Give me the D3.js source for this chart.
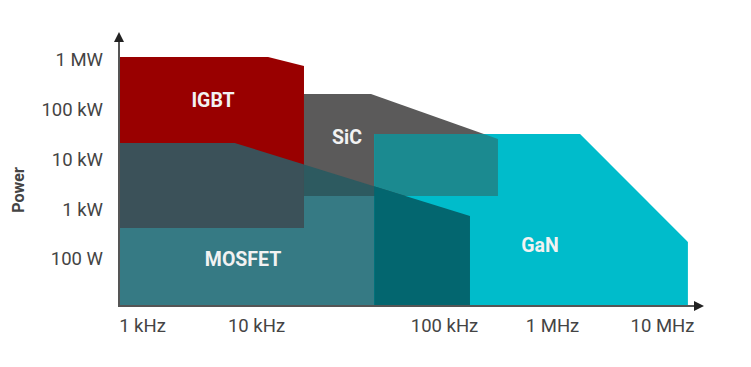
<!DOCTYPE html>
<html>
<head>
<meta charset="utf-8">
<script src="https://cdn.jsdelivr.net/npm/d3@7"></script>
<style>
  html, body { margin: 0; padding: 0; background: #ffffff; }
  svg { display: block; }
  text { font-family: Roboto, "Noto Sans", sans-serif; }
</style>
</head>
<body>
<svg id="chart" width="751" height="367"></svg>
<script>
// ---- Data (frequency in Hz, power in W) ----
const xTickValues = [1e3, 1e4, 1e5, 1e6, 1e7];
const xTickLabels = ["1 kHz", "10 kHz", "100 kHz", "1 MHz", "10 MHz"];
const yTickValues = [1e2, 1e3, 1e4, 1e5, 1e6];
const yTickLabels = ["100 W", "1 kW", "10 kW", "100 kW", "1 MW"];

const FLOOR = 11.4; // power at the frequency axis

const igbtFreq  = [640, 11600, 18000, 18000, 640];
const igbtPower = [1.15e6, 1.15e6, 7.6e5, 420, 420];

const sicFreq  = [18000, 40900, 316000, 316000, 18000];
const sicPower = [2.07e5, 2.07e5, 2.58e4, 1850, 1850];

const ganFreq  = [42500, 1.8e6, 1.72e7, 1.72e7, 42500];
const ganPower = [3.26e4, 3.26e4, 220, FLOOR, FLOOR];

const mosfetFreq  = [640, 6500, 174000, 174000, 640];
const mosfetPower = [2.15e4, 2.15e4, 731, FLOOR, FLOOR];

const labelNames = ["IGBT", "SiC", "MOSFET", "GaN"];
const labelFreq  = [4200, 30500, 7700, 774000];
const labelPower = [1.5e5, 2.83e4, 100, 191];

// ---- Scales ----
const x = d3.scaleLog()
  .domain(xTickValues)
  .range([142, 256, 444, 552, 662]);
const y = d3.scaleLog()
  .domain([1e2, 1e6])
  .range([259, 60]);

const svg = d3.select("#chart");
const toPts = (fs, ps) => fs.map((f, i) => [x(f), y(ps[i])]);
const line = d3.line();
const pathOf = (fs, ps) => line(toPts(fs, ps)) + "Z";

const igbtPath = pathOf(igbtFreq, igbtPower);
const sicPath = pathOf(sicFreq, sicPower);
const ganPath = pathOf(ganFreq, ganPower);
const mosPath = pathOf(mosfetFreq, mosfetPower);

const defs = svg.append("defs");
[["clipIgbt", igbtPath], ["clipSic", sicPath], ["clipGan", ganPath]].forEach(([id, d]) => {
  defs.append("clipPath").attr("id", id).append("path").attr("d", d);
});

const g = svg.append("g");
// base layers
g.append("path").attr("d", mosPath).attr("fill", "#367a84");
g.append("path").attr("d", igbtPath).attr("fill", "#990000");
g.append("path").attr("d", sicPath).attr("fill", "#5b5a5a");
g.append("path").attr("d", ganPath).attr("fill", "#00bccb");
// overlaps
g.append("path").attr("d", ganPath).attr("clip-path", "url(#clipSic)").attr("fill", "#1b8a90");
g.append("path").attr("d", mosPath).attr("clip-path", "url(#clipIgbt)").attr("fill", "#3b5159");
g.append("path").attr("d", mosPath).attr("clip-path", "url(#clipSic)").attr("fill", "#2d5a60");
g.append("path").attr("d", mosPath).attr("clip-path", "url(#clipGan)").attr("fill", "#03666f");

// region labels
g.selectAll("text.region")
  .data(labelNames)
  .join("text")
  .attr("class", "region")
  .attr("x", (d, i) => x(labelFreq[i]))
  .attr("y", (d, i) => y(labelPower[i]))
  .attr("text-anchor", "middle")
  .attr("dominant-baseline", "central")
  .attr("font-size", 19.5)
  .attr("font-weight", "bold")
  .attr("fill", "#f2f2f2")
  .text(d => d);

// ---- Axes ----
const x0 = 119, yBase = y(FLOOR);
const axisG = svg.append("g");
axisG.append("line").attr("x1", x0).attr("x2", 697).attr("y1", yBase).attr("y2", yBase)
  .attr("stroke", "#555").attr("stroke-width", 2);
axisG.append("line").attr("x1", x0).attr("x2", x0).attr("y1", yBase + 1).attr("y2", 40)
  .attr("stroke", "#555").attr("stroke-width", 2);
axisG.append("path").attr("d", `M704,${yBase} L694,${yBase - 5} L694,${yBase + 5} Z`).attr("fill", "#222");
axisG.append("path").attr("d", `M${x0},32 L${x0 - 5},42 L${x0 + 5},42 Z`).attr("fill", "#222");

// x tick labels
const xAxis = d3.axisBottom(x).tickValues(xTickValues)
  .tickFormat((d, i) => xTickLabels[i]).tickSize(0).tickPadding(0);
const xg = svg.append("g").attr("transform", `translate(0,${yBase + 20})`).call(xAxis);
xg.select(".domain").remove();
xg.selectAll("text").attr("font-size", 18.5).attr("fill", "#444")
  .attr("font-family", "Roboto, sans-serif").attr("dy", "0.32em");

// y tick labels
const yAxis = d3.axisLeft(y).tickValues(yTickValues)
  .tickFormat((d, i) => yTickLabels[i]).tickSize(0).tickPadding(0);
const yg = svg.append("g").attr("transform", `translate(103,0)`).call(yAxis);
yg.select(".domain").remove();
yg.selectAll("text").attr("font-size", 18.5).attr("fill", "#444")
  .attr("font-family", "Roboto, sans-serif");

// y axis title
svg.append("text")
  .attr("transform", "translate(18,190) rotate(-90)")
  .attr("text-anchor", "middle")
  .attr("dominant-baseline", "central")
  .attr("font-size", 16)
  .attr("font-weight", "bold")
  .attr("fill", "#444")
  .text("Power");
</script>
</body>
</html>
